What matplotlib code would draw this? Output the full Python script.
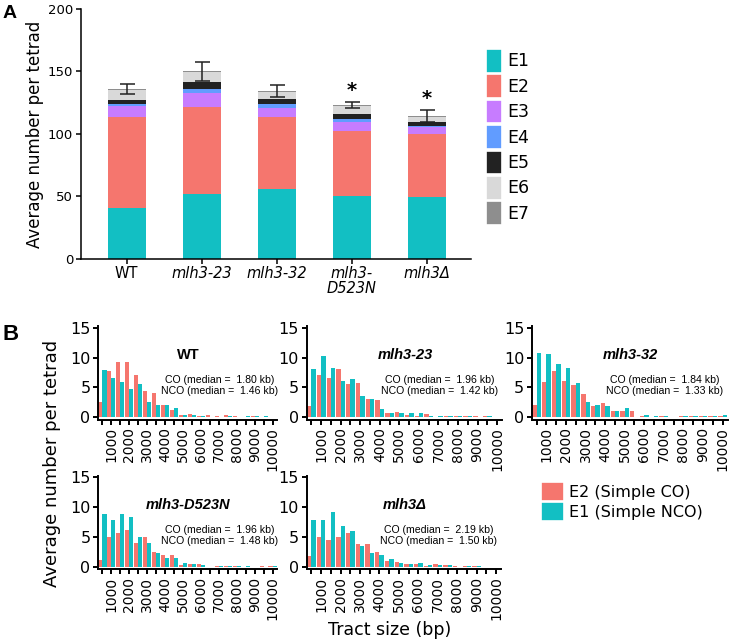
import numpy as np
import matplotlib.pyplot as plt
from matplotlib.patches import Patch

# ---- panel A: stacked event classes per genotype
genotypes = ['WT', 'mlh3-23', 'mlh3-32', 'mlh3-\nD523N', 'mlh3Δ']
E1 = [40.8, 51.5, 55.8, 50.2, 49.1]
E2 = [72.5, 69.8, 58.0, 51.9, 50.3]
E3 = [9.1, 11.3, 7.2, 7.5, 5.9]
E4 = [1.3, 3.2, 2.5, 2.4, 1.0]
E5 = [3.0, 5.6, 4.2, 4.2, 3.3]
E6 = [8.5, 8.0, 5.9, 5.7, 4.2]
E7 = [0.6, 0.5, 0.6, 1.0, 0.6]
sem = [4.0, 7.3, 4.8, 2.3, 4.6]
significant = [False, False, False, True, True]
event_names = ['E1', 'E2', 'E3', 'E4', 'E5', 'E6', 'E7']
event_colors = ['#12bfc3', '#f5766e', '#c77cff', '#619cff', '#222222', '#d9d9d9', '#8e8e8e']

# ---- panel B: tract size distributions (500 bp bins)
bins = np.arange(500, 10001, 500)
panel_titles = ['WT', 'mlh3-23', 'mlh3-32', 'mlh3-D523N', 'mlh3Δ']
co_median = ['1.80', '1.96', '1.84', '1.96', '2.19']
nco_median = ['1.46', '1.42', '1.33', '1.48', '1.50']
co_counts = [
    [2.5, 7.8, 9.2, 9.3, 7.0, 4.4, 4.0, 2.0, 1.1, 0.3, 0.5, 0.2, 0.3, 0.1, 0.3, 0.1, 0.0, 0.1, 0.0, 0.0],
    [1.9, 7.0, 6.5, 8.0, 5.5, 5.7, 3.1, 2.9, 0.7, 0.85, 0.3, 0.2, 0.55, 0.0, 0.15, 0.2, 0.1, 0.2, 0.2, 0.0],
    [2.1, 5.9, 7.7, 6.1, 5.4, 3.9, 1.9, 2.4, 1.0, 1.0, 1.0, 0.2, 0.0, 0.15, 0.0, 0.2, 0.1, 0.1, 0.15, 0.1],
    [1.1, 5.0, 5.7, 6.1, 4.0, 5.0, 2.4, 1.9, 2.0, 0.2, 0.45, 0.45, 0.0, 0.15, 0.15, 0.1, 0.0, 0.0, 0.1, 0.1],
    [1.8, 5.0, 4.5, 4.9, 5.6, 3.8, 3.7, 2.4, 1.0, 0.8, 0.4, 0.4, 0.1, 0.35, 0.2, 0.1, 0.1, 0.15, 0.0, 0.0],
]
nco_counts = [
    [7.9, 6.6, 5.9, 4.7, 5.5, 2.6, 2.0, 2.0, 1.5, 0.3, 0.3, 0.2, 0.0, 0.05, 0.1, 0.0, 0.2, 0.1, 0.1, 0.0],
    [8.0, 10.2, 8.3, 6.1, 6.4, 3.6, 3.0, 1.4, 0.7, 0.7, 0.7, 0.7, 0.25, 0.15, 0.1, 0.2, 0.15, 0.0, 0.1, 0.0],
    [10.8, 10.6, 8.9, 8.3, 5.7, 2.6, 2.0, 1.8, 1.0, 1.5, 0.0, 0.4, 0.15, 0.1, 0.0, 0.15, 0.2, 0.2, 0.1, 0.3],
    [8.8, 7.8, 8.8, 8.3, 4.9, 4.0, 2.2, 1.4, 1.4, 0.6, 0.45, 0.3, 0.0, 0.1, 0.15, 0.1, 0.1, 0.0, 0.0, 0.1],
    [7.9, 7.9, 9.1, 6.8, 6.0, 3.4, 2.3, 1.9, 1.2, 0.55, 0.4, 0.6, 0.2, 0.2, 0.2, 0.0, 0.15, 0.15, 0.0, 0.0],
]
CO_COL = '#f5766e'
NCO_COL = '#12bfc3'

W, H = 729, 643
fig = plt.figure(figsize=(W / 100, H / 100), dpi=100)


def px_axes(x0, y0, x1, y1):
    return fig.add_axes([x0 / W, 1 - y1 / H, (x1 - x0) / W, (y1 - y0) / H])


# ------------------------------------------------------------------ A
axA = px_axes(81, 9, 471, 258.5)
x = np.arange(len(genotypes))
stacks = [E1, E2, E3, E4, E5, E6, E7]
bottom = np.zeros(len(genotypes))
for name, vals, col in zip(event_names, stacks, event_colors):
    axA.bar(x, vals, 0.5, bottom=bottom, color=col, label=name)
    bottom += np.array(vals)
axA.errorbar(x, bottom, yerr=sem, fmt='none', ecolor='#222222', elinewidth=1.1,
             capsize=5.4, capthick=1.1, zorder=3)
for i in range(len(genotypes)):
    if significant[i]:
        axA.text(x[i], bottom[i] + sem[i] + 2, '*', ha='center', va='bottom',
                 fontsize=14, fontweight='bold')
axA.set_xlim(-0.61, 4.59)
axA.set_ylim(0, 200)
axA.set_yticks([0, 50, 100, 150, 200])
axA.set_xticks(x)
axA.set_xticklabels(genotypes, fontsize=10.5, linespacing=0.95)
for i, lab in enumerate(axA.get_xticklabels()):
    if i > 0:
        lab.set_style('italic')
for lab in axA.get_yticklabels():
    lab.set_fontsize(9.5)
for s in ['top', 'right']:
    axA.spines[s].set_visible(False)
for s in ['left', 'bottom']:
    axA.spines[s].set_linewidth(1.1)
axA.tick_params(length=3.6, width=1.1, pad=2)
fig.text(35 / W, 1 - 134 / H, 'Average number per tetrad', rotation=90,
         ha='center', va='center', fontsize=12)

hA = [Patch(facecolor=c, edgecolor='white', linewidth=1.2) for c in event_colors]
fig.legend(hA, event_names, loc='upper left', bbox_to_anchor=(486 / W, 1 - 49 / H),
           frameon=False, borderpad=0, borderaxespad=0, handlelength=0.95,
           handleheight=1.72, handletextpad=0.25, labelspacing=0.1, fontsize=12.5)

fig.text(3 / W, 1 - 14 / H, 'A', fontsize=14, fontweight='bold', va='center',
         family='Liberation Sans')

# ------------------------------------------------------------------ B
boxes = [(98, 326, 277, 419.5), (306.5, 326, 502, 419.5), (531.7, 326, 727.5, 419.5),
         (98, 475.5, 277, 569), (306.5, 475.5, 501, 569)]
labels_x = [str(b) if b % 1000 == 0 else '' for b in bins]
for k, box in enumerate(boxes):
    ax = px_axes(*box)
    ax.bar(bins - 112.5, co_counts[k], 225, color=CO_COL)
    ax.bar(bins + 112.5, nco_counts[k], 225, color=NCO_COL)
    ax.set_xlim(250, 10250)
    ax.set_ylim(-0.42, 15.3)
    ax.set_yticks([0, 5, 10, 15])
    ax.set_xticks(bins)
    ax.set_xticklabels(labels_x, rotation=90, fontsize=10)
    for lab in ax.get_yticklabels():
        lab.set_fontsize(11.5)
    for s in ['top', 'right']:
        ax.spines[s].set_visible(False)
    for s in ['left', 'bottom']:
        ax.spines[s].set_linewidth(1.4)
    ax.tick_params(length=3.4, width=1.4, pad=2)
    title = panel_titles[k]
    ax.text(5300, 10.4, title, ha='center', va='center', fontsize=10.5,
            fontweight='bold', style='normal' if title == 'WT' else 'italic',
            family='Liberation Sans')
    ax.text(7050, 6.2, f'CO (median =  {co_median[k]} kb)', ha='center', va='center',
            fontsize=7.6, family='Liberation Sans')
    ax.text(7050, 4.3, f'NCO (median =  {nco_median[k]} kb)', ha='center', va='center',
            fontsize=7.6, family='Liberation Sans')

fig.text(52 / W, 1 - 463 / H, 'Average number per tetrad', rotation=90, ha='center',
         va='center', fontsize=13)
fig.text(390 / W, 1 - 630 / H, 'Tract size (bp)', ha='center', va='center', fontsize=12.5)
fig.text(3 / W, 1 - 335 / H, 'B', fontsize=16, fontweight='bold', va='center',
         family='Liberation Sans')

hB = [Patch(facecolor=CO_COL, edgecolor='white', linewidth=1.2),
      Patch(facecolor=NCO_COL, edgecolor='white', linewidth=1.2)]
fig.legend(hB, ['E2 (Simple CO)', 'E1 (Simple NCO)'], loc='upper left',
           bbox_to_anchor=(541 / W, 1 - 482 / H), frameon=False, borderpad=0,
           borderaxespad=0, handlelength=1.45, handleheight=1.45, handletextpad=0.3,
           labelspacing=0.05, fontsize=11.5)

fig.savefig('out.png', dpi=100)
